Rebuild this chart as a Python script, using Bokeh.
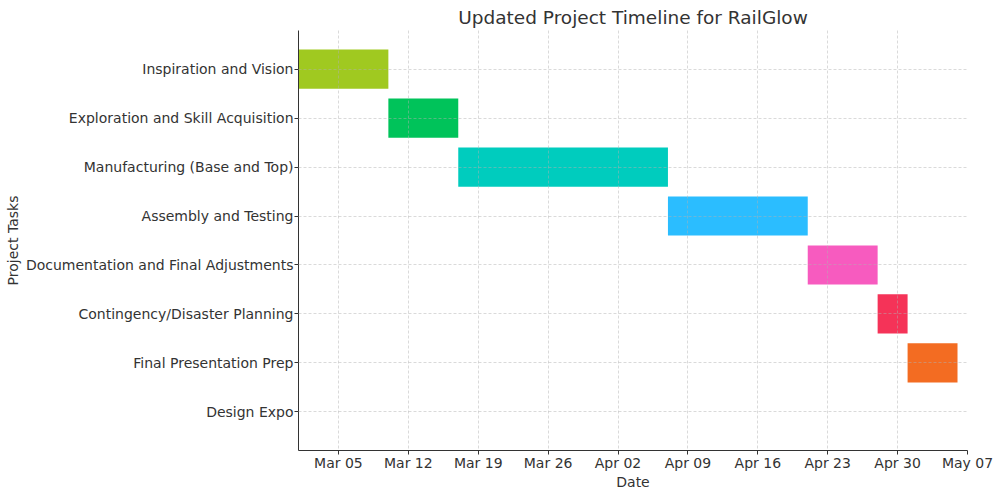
from datetime import datetime
from bokeh.plotting import figure
from bokeh.models import ColumnDataSource, Range1d, FixedTicker, DatetimeTickFormatter
from bokeh.embed import file_html
from bokeh.resources import INLINE

tasks = ["Inspiration and Vision", "Exploration and Skill Acquisition",
         "Manufacturing (Base and Top)", "Assembly and Testing",
         "Documentation and Final Adjustments", "Contingency/Disaster Planning",
         "Final Presentation Prep", "Design Expo"]
starts = ["2024-03-01", "2024-03-10", "2024-03-17", "2024-04-07",
          "2024-04-21", "2024-04-28", "2024-05-01", "2024-05-06"]
ends = ["2024-03-10", "2024-03-17", "2024-04-07", "2024-04-21",
        "2024-04-28", "2024-05-01", "2024-05-06", "2024-05-06"]
colors = ["#A0C920", "#00C35A", "#00CCBE", "#2BBDFF",
          "#F75BBF", "#F53358", "#F36C22", "#FFFFFF"]
tick_dates = ["2024-03-05", "2024-03-12", "2024-03-19", "2024-03-26", "2024-04-02",
              "2024-04-09", "2024-04-16", "2024-04-23", "2024-04-30", "2024-05-07"]
x_start, x_end = "2024-03-01", "2024-05-07"

def d(s):
    return datetime.strptime(s, "%Y-%m-%d")

def ms(s):
    return (d(s) - datetime(1970, 1, 1)).total_seconds() * 1000.0

idx = list(range(len(tasks)))
src = ColumnDataSource(dict(y=idx, left=[d(s) for s in starts], right=[d(e) for e in ends],
                            color=colors, task=tasks))

FONT = "DejaVu Sans"
TXT = "#333333"

p = figure(width=1000, height=496, x_axis_type="datetime",
           x_range=Range1d(d(x_start), d(x_end)),
           y_range=Range1d(len(tasks) - 1 + 0.79, -0.79),
           output_backend="svg", toolbar_location=None,
           min_border_left=298, min_border_right=33, min_border_top=30, min_border_bottom=46)
p.outline_line_color = None

p.hbar(y="y", left="left", right="right", height=0.8, color="color", source=src,
       fill_alpha=1.0, line_color=None)

p.title.text = "Updated Project Timeline for RailGlow"
p.title.align = "center"
p.title.text_font = FONT
p.title.text_font_size = "18.5px"
p.title.text_font_style = "normal"
p.title.text_color = TXT
p.title.standoff = 5
p.title.offset = 0

p.xaxis.ticker = FixedTicker(ticks=[ms(t) for t in tick_dates])
p.xaxis.formatter = DatetimeTickFormatter(days="%b %d", months="%b %d")
p.yaxis.ticker = FixedTicker(ticks=idx)
p.yaxis.major_label_overrides = {i: t for i, t in enumerate(tasks)}
p.xaxis.axis_label = "Date"
p.yaxis.axis_label = "Project Tasks"

for ax in (p.xaxis, p.yaxis):
    ax.axis_line_color = "#333333"
    ax.axis_line_width = 1
    ax.major_tick_line_color = "#333333"
    ax.major_tick_out = 4
    ax.major_tick_in = 0
    ax.minor_tick_line_color = None
    ax.major_label_text_font = FONT
    ax.major_label_text_font_size = "14px"
    ax.major_label_text_color = TXT
    ax.axis_label_text_font = FONT
    ax.axis_label_text_font_size = "14px"
    ax.axis_label_text_font_style = "normal"
    ax.axis_label_text_color = TXT

p.xaxis.major_label_standoff = 0
p.xaxis.axis_label_standoff = 0
p.yaxis.major_label_standoff = 1
p.yaxis.axis_label_standoff = 2

for g in (p.xgrid, p.ygrid):
    g.grid_line_color = "#b0b0b0"
    g.grid_line_alpha = 0.6
    g.grid_line_dash = "3 2"
    g.grid_line_width = 0.8
    g.level = "overlay"

open("out.html", "w").write(file_html(p, INLINE))
